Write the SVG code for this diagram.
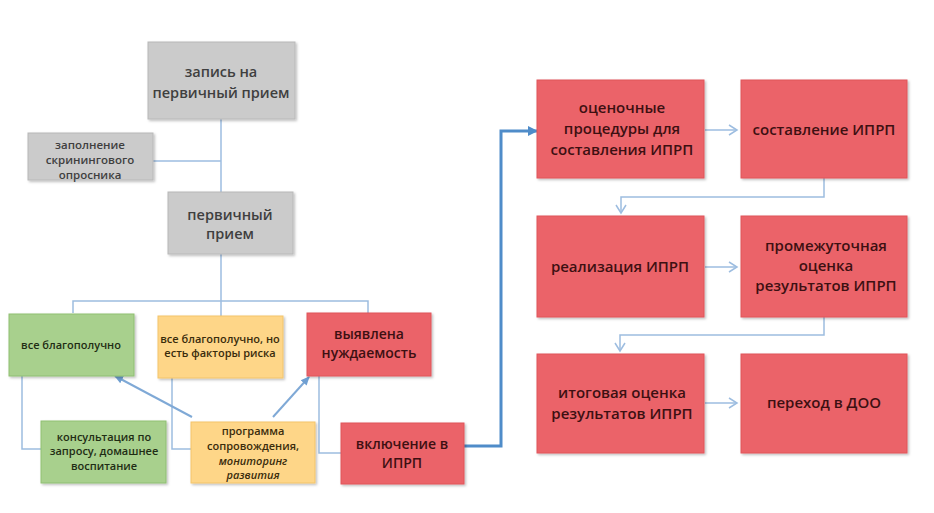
<svg xmlns="http://www.w3.org/2000/svg" width="934" height="513" viewBox="0 0 934 513">
<defs>
<style>
.gray{fill:#cbcbcb;stroke:#b8b8b8;stroke-width:1}
.green{fill:#a8d08d;stroke:#8fbf72;stroke-width:1}
.yellow{fill:#fed688;stroke:#f3c46a;stroke-width:1}
.red{fill:#eb6369;stroke:#e0555b;stroke-width:1}
text{font-family:"Open Sans","Liberation Sans",sans-serif;font-weight:600;text-anchor:middle}
.tg{fill:#3f3f3f;font-size:14.5px}
.tgs{fill:#3f3f3f;font-size:11.5px}
.tgr{fill:#1f2d14;font-size:11px}
.ty{fill:#3a2c0c;font-size:11px}
.tr{fill:#3d1012;font-size:15px}
.trs{fill:#3d1012;font-size:14px}
.thin{fill:none;stroke:#9dbde0;stroke-width:1.5}
.arr{fill:none;stroke:#7fa9d6;stroke-width:2}
.thick{fill:none;stroke:#4f8cc9;stroke-width:3}
</style>
<marker id="ah" markerWidth="10" markerHeight="10" refX="8" refY="5" orient="auto" markerUnits="userSpaceOnUse">
<path d="M0,1 L9,5 L0,9 z" fill="#6f9fd2"/>
</marker>
<marker id="ahb" markerWidth="12" markerHeight="12" refX="9" refY="6" orient="auto" markerUnits="userSpaceOnUse">
<path d="M0,1 L10,6 L0,11 z" fill="#4f8cc9"/>
</marker>
<marker id="ao" markerWidth="12" markerHeight="12" refX="10" refY="6" orient="auto" markerUnits="userSpaceOnUse">
<path d="M2,1 L10,6 L2,11" fill="none" stroke="#9dbde0" stroke-width="1.5"/>
</marker>
<filter id="sh" x="-10%" y="-10%" width="130%" height="130%">
<feDropShadow dx="1.5" dy="1.5" stdDeviation="1.2" flood-color="#000" flood-opacity="0.25"/>
</filter>
</defs>
<rect width="934" height="513" fill="#ffffff"/>

<g id="connectors">
<path class="thin" d="M221,119 V192"/>
<path class="thin" d="M153,161 H221"/>
<path class="thin" d="M221,254 V316"/>
<path class="thin" d="M73,313 V301 H368 V313"/>
<path class="thin" d="M22,376 V449 H41"/>
<path class="thin" d="M172,378 V449 H191"/>
<path class="thin" d="M319,376 V453 H341"/>
<path class="arr" d="M192,417 L115,376" marker-end="url(#ah)"/>
<path class="arr" d="M273,417 L309,377" marker-end="url(#ah)"/>
<path class="thick" d="M464,446 H501 V131 H537" marker-end="url(#ahb)"/>
<path class="thin" d="M705,130 H737" marker-end="url(#ao)"/>
<path class="thin" d="M824,178 V197 H621 V213" marker-end="url(#ao)"/>
<path class="thin" d="M705,267 H737" marker-end="url(#ao)"/>
<path class="thin" d="M824,317 V335 H620 V351" marker-end="url(#ao)"/>
<path class="thin" d="M705,403 H737" marker-end="url(#ao)"/>
</g>

<g id="n1" filter="url(#sh)"><rect class="gray" x="148" y="42" width="147" height="77"/></g>
<g id="n1t"><text class="tg" x="221" y="77">запись на</text><text class="tg" x="221" y="98">первичный прием</text></g>

<g id="n2" filter="url(#sh)"><rect class="gray" x="28" y="133" width="125" height="47"/></g>
<g id="n2t"><text class="tgs" x="90" y="149">заполнение</text><text class="tgs" x="90" y="164">скринингового</text><text class="tgs" x="90" y="179">опросника</text></g>

<g id="n3" filter="url(#sh)"><rect class="gray" x="168" y="192" width="125" height="62"/></g>
<g id="n3t"><text class="tg" x="230" y="220">первичный</text><text class="tg" x="230" y="239">прием</text></g>

<g id="n4" filter="url(#sh)"><rect class="green" x="9" y="314" width="125" height="62"/></g>
<g id="n4t"><text class="tgr" x="71" y="349">все благополучно</text></g>

<g id="n5" filter="url(#sh)"><rect class="yellow" x="158" y="316" width="125" height="62"/></g>
<g id="n5t"><text class="ty" x="220" y="343">все благополучно, но</text><text class="ty" x="220" y="357">есть факторы риска</text></g>

<g id="n6" filter="url(#sh)"><rect class="red" x="307" y="313" width="124" height="63"/></g>
<g id="n6t"><text class="trs" x="369" y="339">выявлена</text><text class="trs" x="369" y="358">нуждаемость</text></g>

<g id="n7" filter="url(#sh)"><rect class="green" x="41" y="421" width="125" height="62"/></g>
<g id="n7t"><text class="tgr" x="104" y="441">консультация по</text><text class="tgr" x="104" y="455">запросу, домашнее</text><text class="tgr" x="104" y="470">воспитание</text></g>

<g id="n8" filter="url(#sh)"><rect class="yellow" x="191" y="422" width="124" height="61"/></g>
<g id="n8t"><text class="ty" x="253" y="435">программа</text><text class="ty" x="253" y="450">сопровождения,</text><text class="ty" x="253" y="465" font-weight="700" font-style="italic" fill="#111">мониторинг</text><text class="ty" x="253" y="479" font-weight="700" font-style="italic" fill="#111">развития</text></g>

<g id="n9" filter="url(#sh)"><rect class="red" x="341" y="423" width="123" height="61"/></g>
<g id="n9t"><text class="trs" x="402" y="449">включение в</text><text class="trs" x="402" y="468">ИПРП</text></g>

<g id="n10" filter="url(#sh)"><rect class="red" x="537" y="80" width="167" height="98"/></g>
<g id="n10t"><text class="tr" x="622" y="113">оценочные</text><text class="tr" x="622" y="134">процедуры для</text><text class="tr" x="622" y="155">составления ИПРП</text></g>

<g id="n11" filter="url(#sh)"><rect class="red" x="741" y="80" width="166" height="98"/></g>
<g id="n11t"><text class="tr" x="824" y="135">составление ИПРП</text></g>

<g id="n12" filter="url(#sh)"><rect class="red" x="537" y="216" width="167" height="101"/></g>
<g id="n12t"><text class="tr" x="620" y="272">реализация ИПРП</text></g>

<g id="n13" filter="url(#sh)"><rect class="red" x="741" y="216" width="166" height="101"/></g>
<g id="n13t"><text class="tr" x="826" y="251">промежуточная</text><text class="tr" x="826" y="271">оценка</text><text class="tr" x="826" y="291">результатов ИПРП</text></g>

<g id="n14" filter="url(#sh)"><rect class="red" x="537" y="354" width="167" height="99"/></g>
<g id="n14t"><text class="tr" x="622" y="398">итоговая оценка</text><text class="tr" x="622" y="419">результатов ИПРП</text></g>

<g id="n15" filter="url(#sh)"><rect class="red" x="741" y="354" width="166" height="99"/></g>
<g id="n15t"><text class="tr" x="824" y="408">переход в ДОО</text></g>
</svg>
